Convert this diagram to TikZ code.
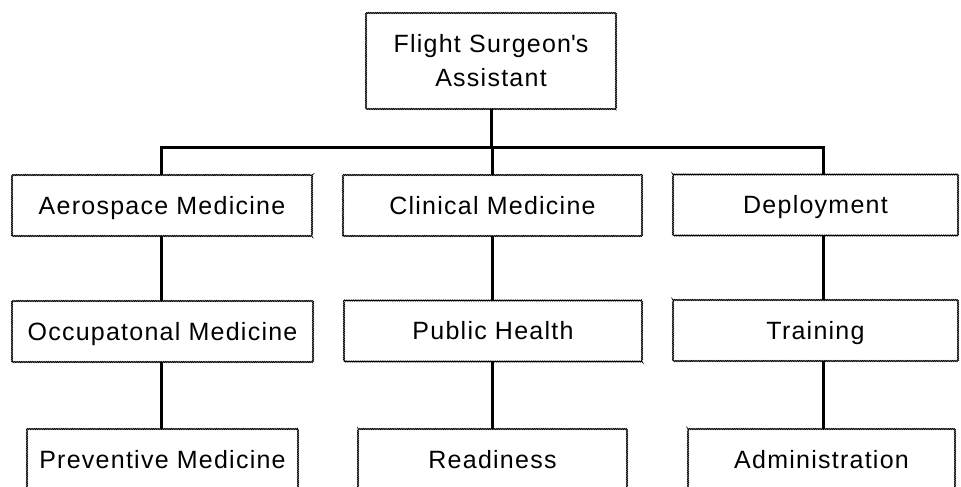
\documentclass[tikz,border=0pt]{standalone}
\usepackage{fontspec}
\setmainfont{Liberation Sans}[LetterSpace=5]
\usetikzlibrary{decorations.pathmorphing}
\begin{document}
\begin{tikzpicture}[x=1pt,y=-1pt,
  box/.style={draw=black, line width=0.9pt, decorate,
    decoration={zigzag,amplitude=0.5pt,segment length=1.8pt},
    rectangle, inner sep=0pt, font=\fontsize{25}{34}\selectfont,
    text height=17.9pt, text depth=0pt},
  link/.style={line width=3pt, line cap=butt}]
\useasboundingbox (0,0) rectangle (961,487);
\fill[white] (0,0) rectangle (961,487);
% top
\node[box, align=center, minimum width=250pt, minimum height=96pt,
  text height=, text depth=] (fsa) at (491,61) {Flight Surgeon\textquotesingle s\\Assistant};
% level 1
\node[box, minimum width=300pt, minimum height=61pt] (aero) at (162,205.5) {Aerospace Medicine};
\node[box, minimum width=299pt, minimum height=61pt] (clin) at (492.5,205.5) {Clinical Medicine};
\node[box, minimum width=285pt, minimum height=61pt] (depl) at (815.5,205) {Deployment};
% level 2
\node[box, minimum width=301pt, minimum height=61pt] (occ) at (162.5,331.5) {Occupatonal Medicine};
\node[box, minimum width=298pt, minimum height=61pt] (pub) at (493,331) {Public Health};
\node[box, minimum width=285pt, minimum height=61pt] (trn) at (815.5,330.5) {Training};
% level 3
\node[box, minimum width=271pt, minimum height=61pt] (prev) at (162.5,459.5) {Preventive Medicine};
\node[box, minimum width=269pt, minimum height=61pt] (ready) at (492.5,459.5) {Readiness};
\node[box, minimum width=267pt, minimum height=61pt] (admin) at (821.5,459.5) {Administration};
% columns and bar
\coordinate (c1) at (161,147);
\coordinate (c2) at (492,147);
\coordinate (c3) at (823,147);
\coordinate (bar) at (491,147);
\draw[link] (fsa.south -| bar) -- (bar);
\draw[link] ([xshift=-1.5pt]c1) -- ([xshift=1.5pt]c3);
\draw[link] (c1) -- (aero.north -| c1);
\draw[link] (c2) -- (clin.north -| c2);
\draw[link] (c3) -- (depl.north -| c3);
\draw[link] (aero.south -| c1) -- (occ.north -| c1);
\draw[link] (clin.south -| c2) -- (pub.north -| c2);
\draw[link] (depl.south -| c3) -- (trn.north -| c3);
\draw[link] (occ.south -| c1) -- (prev.north -| c1);
\draw[link] (pub.south -| c2) -- (ready.north -| c2);
\draw[link] (trn.south -| c3) -- (admin.north -| c3);
\end{tikzpicture}
\end{document}
